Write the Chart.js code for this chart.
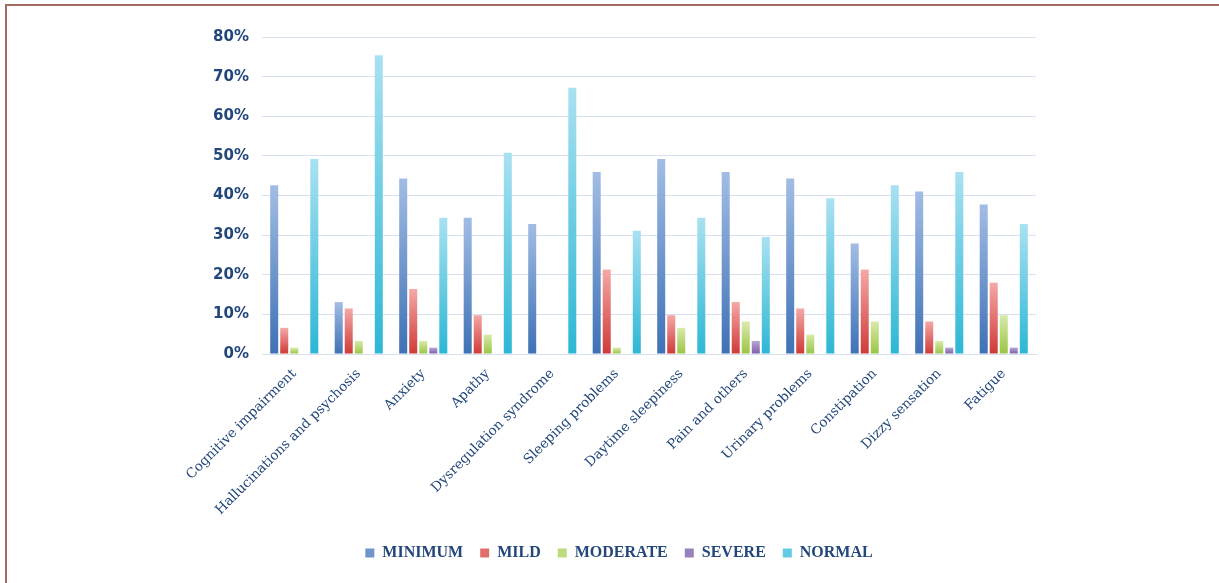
<!DOCTYPE html>
<html>
<head>
<meta charset="utf-8">
<script src="https://cdn.jsdelivr.net/npm/chart.js@4.4.0/dist/chart.umd.min.js"></script>
<style>
  html, body { margin: 0; padding: 0; background: #fff; }
  body { width: 1219px; height: 583px; position: relative; overflow: hidden; }
  #frame { position: absolute; left: 5px; top: 4px; right: -20px; bottom: -20px;
           border-top: 2px solid #a26a62; border-left: 2px solid #a26a62; }
  #wrap { position: absolute; left: 21px; top: 0; width: 1198px; height: 583px; }
</style>
</head>
<body>
<div id="frame"></div>
<div id="wrap"><canvas id="chart"></canvas></div>
<script>
// categories (x axis)
const categories = ['Cognitive impairment', 'Hallucinations and psychosis', 'Anxiety', 'Apathy',
  'Dysregulation syndrome', 'Sleeping problems', 'Daytime sleepiness', 'Pain and others',
  'Urinary problems', 'Constipation', 'Dizzy sensation', 'Fatigue'];

// series values (%)
const minimum  = [42.6, 13.1, 44.3, 34.4, 32.8, 45.9, 49.2, 45.9, 44.3, 27.9, 41.0, 37.7];
const mild     = [6.6, 11.5, 16.4, 9.8, 0, 21.3, 9.8, 13.1, 11.5, 21.3, 8.2, 18.0];
const moderate = [1.6, 3.3, 3.3, 4.9, 0, 1.6, 6.6, 8.2, 4.9, 8.2, 3.3, 9.8];
const severe   = [0, 0, 1.6, 0, 0, 0, 0, 3.3, 0, 0, 1.6, 1.6];
const normal   = [49.2, 75.4, 34.4, 50.8, 67.2, 31.1, 34.4, 29.5, 39.3, 42.6, 45.9, 32.8];

const seriesNames = ['MINIMUM', 'MILD', 'MODERATE', 'SEVERE', 'NORMAL'];
// gradient colours: [top, bottom]
const topColors    = ['#a2bde4', '#f4a8a6', '#d8eaab', '#b6a6d3', '#a9e1f1'];
const bottomColors = ['#3e71b5', '#cf3a37', '#9ac443', '#7a5ea6', '#2cb7d4'];
const legendColors = ['#6f95cc', '#e26e6c', '#bcdb7c', '#9782bd', '#62cbe3'];

const textColor = '#23477a';
const gridColor = '#d7e0f1';

function barGradient(i) {
  return function (ctx) {
    const chart = ctx.chart;
    const y = chart.scales.y;
    if (!y || ctx.type !== 'data') return legendColors[i];
    const v = ctx.raw || 0;
    const top = y.getPixelForValue(v);
    const bottom = y.getPixelForValue(0);
    if (!isFinite(top) || bottom - top < 1) return legendColors[i];
    const g = chart.ctx.createLinearGradient(0, top, 0, bottom);
    g.addColorStop(0, topColors[i]);
    g.addColorStop(1, bottomColors[i]);
    return g;
  };
}

const allData = [minimum, mild, moderate, severe, normal];

new Chart(document.getElementById('chart'), {
  type: 'bar',
  data: {
    labels: categories,
    datasets: allData.map((d, i) => ({
      label: seriesNames[i],
      data: d,
      backgroundColor: barGradient(i),
      borderWidth: 0,
      categoryPercentage: 0.777,
      barPercentage: 0.8
    }))
  },
  options: {
    responsive: true,
    maintainAspectRatio: false,
    animation: false,
    layout: { padding: { left: 181, right: 183, top: 37, bottom: 12 } },
    scales: {
      x: {
        grid: { display: false },
        border: { color: gridColor, width: 1 },
        ticks: {
          color: textColor,
          font: { family: 'DejaVu Serif', size: 13.5 },
          maxRotation: 45, minRotation: 45,
          autoSkip: false, padding: 4
        },
        afterFit: s => { s.height = 174; }
      },
      y: {
        min: 0, max: 80,
        grid: { color: gridColor, lineWidth: 1, drawTicks: false },
        border: { display: false },
        ticks: {
          stepSize: 10,
          color: textColor,
          padding: 13,
          font: { family: 'DejaVu Sans', size: 15, weight: 'bold' },
          callback: v => v + '%'
        },
        afterFit: s => { s.width = 60; }
      }
    },
    plugins: {
      legend: {
        position: 'bottom',
        labels: {
          color: textColor,
          font: { family: 'Liberation Serif', size: 16, weight: 'bold' },
          boxWidth: 9, boxHeight: 9,
          padding: 17,
          generateLabels: chart => seriesNames.map((n, i) => ({
            text: n,
            fillStyle: legendColors[i],
            strokeStyle: legendColors[i],
            lineWidth: 0,
            fontColor: textColor,
            datasetIndex: i,
            hidden: false
          }))
        }
      },
      tooltip: { enabled: false }
    }
  }
});
</script>
</body>
</html>
